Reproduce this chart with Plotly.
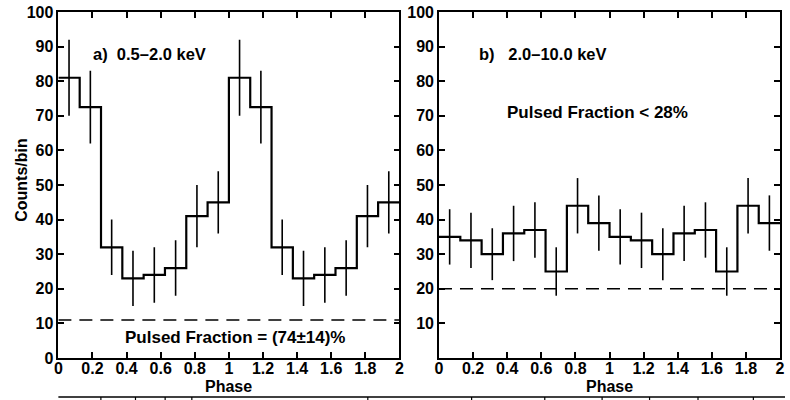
import plotly.graph_objects as go

# ---- data ----
bin_edges = [0.0, 0.125, 0.25, 0.375, 0.5, 0.625, 0.75, 0.875,
             1.0, 1.125, 1.25, 1.375, 1.5, 1.625, 1.75, 1.875, 2.0]
bin_centers = [0.0625, 0.1875, 0.3125, 0.4375, 0.5625, 0.6875, 0.8125, 0.9375,
               1.0625, 1.1875, 1.3125, 1.4375, 1.5625, 1.6875, 1.8125, 1.9375]

soft_counts = [81, 72.5, 32, 23, 24, 26, 41, 45,
               81, 72.5, 32, 23, 24, 26, 41, 45]
soft_errors = [11, 10.5, 8, 8, 8, 8, 9, 9,
               11, 10.5, 8, 8, 8, 8, 9, 9]

hard_counts = [35, 34, 30, 36, 37, 25, 44, 39,
               35, 34, 30, 36, 37, 25, 44, 39]
hard_errors = [8, 8, 7.5, 8, 8, 7, 8, 8,
               8, 8, 7.5, 8, 8, 7, 8, 8]

soft_level = 11
hard_level = 20

x_ticks = [0, 0.2, 0.4, 0.6, 0.8, 1, 1.2, 1.4, 1.6, 1.8, 2]
y_ticks_left = [0, 10, 20, 30, 40, 50, 60, 70, 80, 90, 100]
y_ticks_right = [10, 20, 30, 40, 50, 60, 70, 80, 90, 100]

FONT = "Liberation Sans"
W, H = 790, 400
# plot area pixels
L1, R1 = 55, 400
L2, R2 = 440, 785
TOP, BOT = 12, 358

fig = go.Figure()

def add_panel(counts, errors, level, xa, ya):
    step_y = counts + [counts[-1]]
    fig.add_trace(go.Scatter(
        x=bin_edges, y=step_y, mode="lines", line_shape="hv",
        line=dict(color="black", width=2.2), xaxis=xa, yaxis=ya,
        showlegend=False, hoverinfo="skip"))
    fig.add_trace(go.Scatter(
        x=bin_centers, y=counts, mode="markers",
        marker=dict(size=1, color="black", opacity=0),
        error_y=dict(type="data", array=errors, visible=True,
                     color="black", thickness=1.6, width=0),
        xaxis=xa, yaxis=ya, showlegend=False, hoverinfo="skip"))
    fig.add_trace(go.Scatter(
        x=[bin_edges[0], bin_edges[-1]], y=[level, level], mode="lines",
        line=dict(color="black", width=1.6, dash="13px,8px"),
        xaxis=xa, yaxis=ya, showlegend=False, hoverinfo="skip"))

add_panel(soft_counts, soft_errors, soft_level, "x", "y")
add_panel(hard_counts, hard_errors, hard_level, "x2", "y2")

tickfont = dict(family=FONT, size=16, color="black", weight="bold")
xcommon = dict(range=[0, 2], tickvals=x_ticks, ticks="inside", ticklen=6,
               tickwidth=1.5, tickcolor="black", showline=True, linecolor="black",
               linewidth=1.6, mirror="ticks", showgrid=False, zeroline=False,
               tickfont=tickfont, ticklabelstandoff=-5, fixedrange=True)
ycommon = dict(range=[0, 100], ticks="inside", ticklen=6, tickwidth=1.5,
               tickcolor="black", showline=True, linecolor="black",
               linewidth=1.6, mirror="ticks", showgrid=False, zeroline=False,
               tickfont=tickfont, ticklabelstandoff=0)

fig.update_layout(
    width=W, height=H,
    margin=dict(l=0, r=0, t=TOP, b=H - BOT, pad=0),
    paper_bgcolor="white", plot_bgcolor="white",
    xaxis=dict(domain=[L1 / W, R1 / W], anchor="y", **xcommon),
    yaxis=dict(domain=[0, 1], anchor="x", tickvals=y_ticks_left, **ycommon),
    xaxis2=dict(domain=[L2 / W, R2 / W], anchor="y2", **xcommon),
    yaxis2=dict(domain=[0, 1], anchor="x2", tickvals=y_ticks_right, **ycommon),
    showlegend=False,
)

def pyf(px):
    return (BOT - px) / (BOT - TOP)

lab_font = dict(family=FONT, size=16.5, color="black", weight="bold")
pf_font = dict(family=FONT, size=17, color="black", weight="bold")
annotations = [
    dict(text="a)  0.5\u20132.0 keV", x=0.19, y=88, xref="x", yref="y",
         xanchor="left", yanchor="middle", showarrow=False, font=lab_font),
    dict(text="Pulsed Fraction = (74\u00b114)%", x=1.04, y=5.8, xref="x", yref="y",
         xanchor="center", yanchor="middle", showarrow=False, font=pf_font),
    dict(text="b)   2.0\u201310.0 keV", x=0.22, y=88, xref="x2", yref="y2",
         xanchor="left", yanchor="middle", showarrow=False, font=lab_font),
    dict(text="Pulsed Fraction < 28%", x=0.93, y=71, xref="x2", yref="y2",
         xanchor="center", yanchor="middle", showarrow=False, font=pf_font),
    dict(text="Phase", x=(L1 + R1) / 2 / W, y=pyf(386), xref="paper", yref="paper",
         xanchor="center", yanchor="middle", showarrow=False,
         font=dict(family=FONT, size=16, color="black", weight="bold")),
    dict(text="Phase", x=(L2 + R2) / 2 / W, y=pyf(386), xref="paper", yref="paper",
         xanchor="center", yanchor="middle", showarrow=False,
         font=dict(family=FONT, size=16, color="black", weight="bold")),
    dict(text="Counts/bin", x=17 / W, y=pyf(180), xref="paper", yref="paper",
         xanchor="center", yanchor="middle", textangle=-90, showarrow=False,
         font=dict(family=FONT, size=16, color="black", weight="bold")),
]
fig.update_layout(annotations=annotations)

# top edge of a lower (cropped) panel
shapes = [dict(type="line", xref="paper", yref="paper", x0=L1 / W, x1=1.0,
               y0=pyf(397), y1=pyf(397), line=dict(color="black", width=1.5))]
for px in [98, 133, 163, 190, 368, 473, 547, 605, 653, 702, 758]:
    shapes.append(dict(type="line", xref="paper", yref="paper", x0=px / W, x1=px / W,
                       y0=pyf(397), y1=pyf(401), line=dict(color="black", width=1.2)))
fig.update_layout(shapes=shapes)

fig.write_html("out.html")
